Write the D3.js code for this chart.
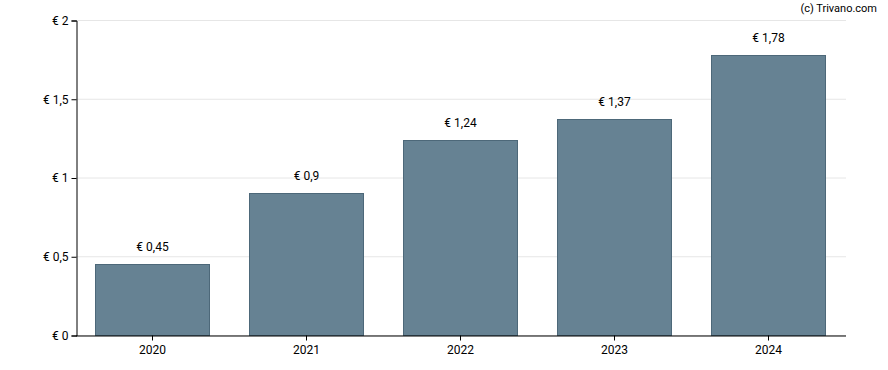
<!DOCTYPE html>
<html><head><meta charset="utf-8">
<script src="https://cdn.jsdelivr.net/npm/d3@7"></script>
<style>body{margin:0;background:#fff}svg{display:block}text{font-family:Roboto,sans-serif}</style>
</head><body><svg id="c" width="888" height="370"></svg>
<script>
const categories = ["2020","2021","2022","2023","2024"];
const values = [0.45, 0.9, 1.24, 1.37, 1.78];
const labels = ["€ 0,45","€ 0,9","€ 1,24","€ 1,37","€ 1,78"];
const yTicks = [0, 0.5, 1, 1.5, 2];
const yTickLabels = ["€ 0","€ 0,5","€ 1","€ 1,5","€ 2"];

const svg = d3.select("#c");
const m = {l:76, r:846, t:20, b:335};
const x = d3.scaleBand().domain(categories).range([m.l, m.r]).paddingInner(0.25).paddingOuter(0.125);
const y = d3.scaleLinear().domain([0,2]).range([m.b, m.t]);
const bw = Math.round(x.bandwidth()) - 2;

svg.append("g").selectAll("line").data(yTicks).join("line")
  .attr("x1", m.l).attr("x2", m.r).attr("y1", d=>y(d)+0.5).attr("y2", d=>y(d)+0.5)
  .attr("stroke", "#e6e6e6").attr("stroke-width", 1);

svg.append("g").selectAll("rect").data(values).join("rect")
  .attr("x", (d,i)=>Math.round(x(categories[i]))+0.5)
  .attr("y", d=>Math.round(y(d))+0.5)
  .attr("width", bw)
  .attr("height", d=>Math.round(y(0))-Math.round(y(d)))
  .attr("fill", "#668293").attr("stroke", "#4d6879").attr("stroke-width", 1);

svg.append("g").selectAll("text").data(values).join("text")
  .attr("x", (d,i)=>Math.round(x(categories[i]))+bw/2+0.5)
  .attr("y", d=>y(d)-13)
  .attr("text-anchor","middle").attr("font-size", 12).attr("fill","#000")
  .text((d,i)=>labels[i]);

const yAxis = d3.axisLeft(y).tickValues(yTicks).tickFormat((d,i)=>yTickLabels[i]).tickSize(5).tickPadding(3);
const gy = svg.append("g").attr("transform", `translate(${m.l+0.5},0.5)`).call(yAxis);
gy.select(".domain").attr("stroke","#000");
gy.selectAll("text").attr("font-size",12).attr("fill","#000").attr("font-family","Roboto,sans-serif");

const xAxis = d3.axisBottom(x).tickSize(5).tickSizeOuter(0).tickPadding(5);
const gx = svg.append("g").attr("transform", `translate(-0.5,${m.b+0.5})`).call(xAxis);
gx.select(".domain").attr("stroke","#000");
gx.selectAll("text").attr("font-size",12).attr("fill","#000").attr("font-family","Roboto,sans-serif");

svg.append("text").attr("x", 877).attr("y", 12).attr("text-anchor","end")
  .attr("font-size", 11).attr("fill","#000").text("(c) Trivano.com");
</script></body></html>
